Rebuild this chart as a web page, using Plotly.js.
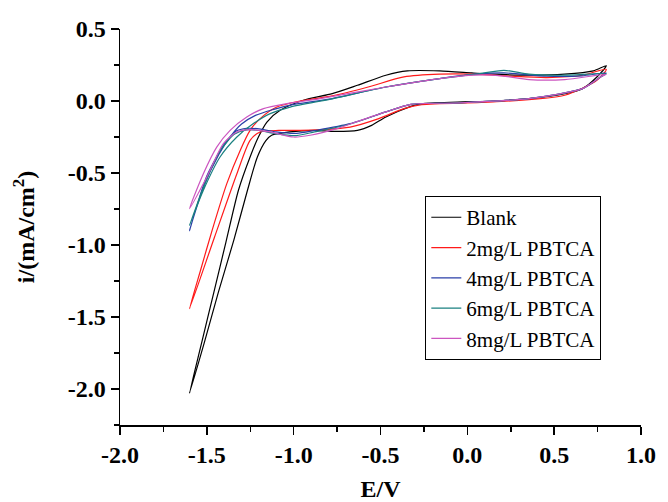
<!DOCTYPE html>
<html><head><meta charset="utf-8">
<script src="https://cdn.plot.ly/plotly-3.0.1.min.js"></script>
<style>html,body{margin:0;padding:0;background:#fff;}#chart{width:668px;height:502px;}</style>
</head><body><div id="chart"></div>
<script>
// Series names
const seriesNames = ["Blank", "2mg/L PBTCA", "4mg/L PBTCA", "6mg/L PBTCA", "8mg/L PBTCA"];

// Blank: potential (V) and current density (mA/cm2), anodic sweep then cathodic sweep
const blankE = [-1.6, -1.53, -1.46, -1.39, -1.318, -1.251, -1.203, -1.154, -1.078, -0.944, -0.778, -0.633, -0.469, -0.345, -0.16, 0.025, 0.149, 0.355, 0.561, 0.726, 0.8,
                0.746, 0.663, 0.561, 0.355, 0.149, -0.057, -0.263, -0.325, -0.469, -0.551, -0.633, -0.778, -0.88, -1.024, -1.127, -1.16, -1.209, -1.266, -1.345, -1.433, -1.515, -1.6];
const blankI = [-2.03, -1.68, -1.33, -0.98, -0.62, -0.389, -0.25, -0.146, -0.065, 0.005, 0.051, 0.109, 0.179, 0.209, 0.209, 0.195, 0.186, 0.179, 0.186, 0.209, 0.245,
                0.167, 0.086, 0.051, 0.017, 0.0, -0.007, -0.018, -0.037, -0.111, -0.169, -0.204, -0.211, -0.204, -0.215, -0.238, -0.275, -0.389, -0.62, -0.968, -1.326, -1.68, -2.03];

// 2 mg/L PBTCA
const pb2E = [-1.6, -1.535, -1.47, -1.385, -1.308, -1.251, -1.193, -1.097, -0.963, -0.778, -0.571, -0.365, -0.16, 0.046, 0.252, 0.458, 0.663, 0.8,
              0.746, 0.561, 0.149, -0.263, -0.365, -0.51, -0.675, -0.84, -0.963, -1.086, -1.193, -1.251, -1.327, -1.457, -1.6];
const pb2I = [-1.443, -1.17, -0.9, -0.574, -0.343, -0.204, -0.122, -0.042, 0.0, 0.035, 0.097, 0.167, 0.186, 0.186, 0.172, 0.163, 0.179, 0.22,
              0.144, 0.04, -0.007, -0.025, -0.053, -0.122, -0.181, -0.199, -0.204, -0.204, -0.215, -0.273, -0.505, -0.95, -1.443];

// 4 mg/L PBTCA
const pb4E = [-1.6, -1.52, -1.43, -1.36, -1.3, -1.22, -1.12, -1.024, -0.778, -0.469, -0.16, 0.046, 0.211, 0.458, 0.66, 0.8,
              0.767, 0.663, 0.355, -0.057, -0.325, -0.469, -0.675, -0.88, -0.983, -1.1, -1.189, -1.27, -1.333, -1.4, -1.5, -1.6];
const pb4I = [-0.9, -0.6, -0.37, -0.24, -0.16, -0.1, -0.06, -0.03, 0.017, 0.097, 0.156, 0.186, 0.195, 0.172, 0.175, 0.195,
              0.167, 0.086, 0.017, -0.014, -0.023, -0.076, -0.157, -0.205, -0.225, -0.215, -0.195, -0.19, -0.21, -0.3, -0.52, -0.9];

// 6 mg/L PBTCA
const pb6E = [-1.6, -1.52, -1.424, -1.327, -1.232, -1.135, -1.02, -0.778, -0.469, -0.16, 0.046, 0.211, 0.355, 0.561, 0.8,
              0.767, 0.663, 0.355, -0.057, -0.325, -0.469, -0.675, -0.88, -0.983, -1.1, -1.2, -1.27, -1.34, -1.42, -1.5, -1.6];
const pb6I = [-0.864, -0.62, -0.389, -0.25, -0.157, -0.088, -0.042, 0.015, 0.097, 0.156, 0.186, 0.213, 0.186, 0.179, 0.19,
              0.167, 0.086, 0.017, -0.014, -0.023, -0.076, -0.16, -0.215, -0.24, -0.228, -0.205, -0.2, -0.23, -0.34, -0.54, -0.864];

// 8 mg/L PBTCA
const pb8E = [-1.6, -1.52, -1.443, -1.366, -1.27, -1.174, -1.039, -0.847, -0.469, -0.16, 0.046, 0.2, 0.355, 0.561, 0.8,
              0.767, 0.663, 0.355, -0.057, -0.325, -0.469, -0.675, -0.751, -0.905, -1.001, -1.135, -1.251, -1.327, -1.405, -1.5, -1.6];
const pb8I = [-0.748, -0.505, -0.32, -0.204, -0.111, -0.053, -0.018, 0.017, 0.097, 0.156, 0.18, 0.175, 0.149, 0.149, 0.185,
              0.167, 0.086, 0.017, -0.014, -0.023, -0.076, -0.16, -0.192, -0.238, -0.25, -0.215, -0.199, -0.215, -0.296, -0.528, -0.748];

// Tick values and labels
const xTickVals = [-2.0, -1.5, -1.0, -0.5, 0.0, 0.5, 1.0];
const xTickText = ["-2.0", "-1.5", "-1.0", "-0.5", "0.0", "0.5", "1.0"];
const yTickVals = [0.5, 0.0, -0.5, -1.0, -1.5, -2.0];
const yTickText = ["0.5", "0.0", "-0.5", "-1.0", "-1.5", "-2.0"];

const seriesColors = ["#000000", "#ff1a1a", "#2a3fa8", "#1a8080", "#cc55c0"];
const seriesE = [blankE, pb2E, pb4E, pb6E, pb8E];
const seriesI = [blankI, pb2I, pb4I, pb6I, pb8I];

const serif = "Liberation Serif";

const traces = seriesNames.map((name, k) => ({
  x: seriesE[k], y: seriesI[k], name: name, type: 'scatter', mode: 'lines',
  line: {color: seriesColors[k], width: 1.2, shape: 'spline', smoothing: 0.7}
}));

const axisCommon = {
  showline: true, linecolor: '#000', linewidth: 1.5,
  ticks: 'outside', ticklen: 8, tickwidth: 1.5, tickcolor: '#000',
  showgrid: false, zeroline: false, tickmode: 'array',
  tickfont: {family: serif, size: 24, color: '#000', weight: 'bold'}
};

const layout = {
  width: 668, height: 502,
  margin: {l: 120, r: 27, t: 29, b: 77},
  paper_bgcolor: '#fff', plot_bgcolor: '#fff',
  font: {family: serif, color: '#000'},
  showlegend: true,
  xaxis: Object.assign({}, axisCommon, {
    range: [-2.0, 1.0], tickvals: xTickVals, ticktext: xTickText,
    minor: {tickmode: 'linear', tick0: -2.0, dtick: 0.25, ticks: 'outside', ticklen: 5, tickwidth: 1.5, tickcolor: '#000', showgrid: false},
    title: {text: 'E/V', font: {family: serif, size: 24, color: '#000', weight: 'bold'}, standoff: 20}
  }),
  yaxis: Object.assign({}, axisCommon, {
    range: [-2.25, 0.5], tickvals: yTickVals, ticktext: yTickText,
    minor: {tickmode: 'linear', tick0: 0.5, dtick: 0.25, ticks: 'outside', ticklen: 5, tickwidth: 1.5, tickcolor: '#000', showgrid: false},
    title: {text: 'i/(mA/cm<sup>2</sup>)', font: {family: serif, size: 24, color: '#000', weight: 'bold'}, standoff: 26}
  }),
  legend: {
    x: 0.586, y: 0.578, xanchor: 'left', yanchor: 'top',
    bgcolor: '#fff', bordercolor: '#000', borderwidth: 1,
    font: {family: serif, size: 21, color: '#000'},
    tracegroupgap: 0
  }
};

Plotly.newPlot('chart', traces, layout, {displayModeBar: false, staticPlot: true});
</script>
</body></html>
